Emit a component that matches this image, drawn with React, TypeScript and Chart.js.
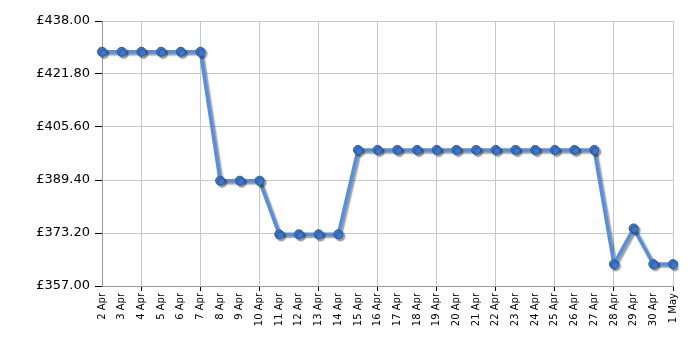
import React, { useEffect, useRef } from "react";
import { Chart, registerables } from "chart.js";

Chart.register(...registerables);

const categories = [
  "2 Apr", "3 Apr", "4 Apr", "5 Apr", "6 Apr", "7 Apr", "8 Apr", "9 Apr", "10 Apr",
  "11 Apr", "12 Apr", "13 Apr", "14 Apr", "15 Apr", "16 Apr", "17 Apr", "18 Apr",
  "19 Apr", "20 Apr", "21 Apr", "22 Apr", "23 Apr", "24 Apr", "25 Apr", "26 Apr",
  "27 Apr", "28 Apr", "29 Apr", "30 Apr", "1 May",
];

const prices = [
  428.6, 428.6, 428.6, 428.6, 428.6, 428.6,
  389.2, 389.2, 389.2,
  372.8, 372.8, 372.8, 372.8,
  398.6, 398.6, 398.6, 398.6, 398.6, 398.6, 398.6, 398.6, 398.6, 398.6, 398.6, 398.6, 398.6,
  363.7, 374.6, 363.7, 363.7,
];

const yTickValues = [357.0, 373.2, 389.4, 405.6, 421.8, 438.0];

const FONT = "'DejaVu Sans', Verdana, sans-serif";

const shadowPlugin = {
  id: "lineShadow",
  beforeDatasetDraw(chart: any) {
    const ctx = chart.ctx;
    ctx.save();
    ctx.shadowColor = "rgba(0,0,0,0.4)";
    ctx.shadowOffsetX = 2;
    ctx.shadowOffsetY = 2;
    ctx.shadowBlur = 1.5;
  },
  afterDatasetDraw(chart: any) {
    chart.ctx.restore();
  },
};

export default function App() {
  const ref = useRef<HTMLCanvasElement | null>(null);

  useEffect(() => {
    if (!ref.current) return;
    const n = categories.length;
    const isGrid = (i: number) => (n - 1 - i) % 3 === 0;
    const chart = new Chart(ref.current, {
      type: "line",
      data: {
        labels: categories,
        datasets: [
          {
            data: prices,
            borderColor: "#5590e0",
            borderWidth: 3.5,
            pointRadius: 4.5,
            pointHoverRadius: 4.5,
            pointBackgroundColor: "#3c78d0",
            pointBorderColor: "#2a5aa0",
            pointBorderWidth: 1,
            tension: 0,
          },
        ],
      },
      options: {
        animation: false,
        responsive: false,
        maintainAspectRatio: false,
        layout: { padding: { left: 0, top: 21, right: 27, bottom: 0 } },
        plugins: {
          legend: { display: false },
          tooltip: { enabled: false },
        },
        scales: {
          x: {
            type: "category",
            offset: false,
            afterFit(scale: any) {
              scale.height = 64;
            },
            grid: {
              color: (c: any) => (isGrid(c.index) ? "#c8c8c8" : "rgba(0,0,0,0)"),
              tickColor: (c: any) => (isGrid(c.index) ? "#000" : "rgba(0,0,0,0)"),
              tickLength: 5,
              drawOnChartArea: true,
            },
            border: { color: "#999", width: 1 },
            ticks: {
              autoSkip: false,
              maxRotation: 90,
              minRotation: 90,
              color: "#000",
              padding: 2,
              font: { family: FONT, size: 10 },
            },
          },
          y: {
            min: 357,
            max: 438,
            afterBuildTicks(scale: any) {
              scale.ticks = yTickValues.map((v) => ({ value: v }));
            },
            afterFit(scale: any) {
              scale.width = 102;
            },
            grid: {
              color: "#c8c8c8",
              tickColor: "#000",
              tickLength: 7,
            },
            border: { color: "#999", width: 1 },
            ticks: {
              color: "#000",
              padding: 5,
              font: { family: FONT, size: 13 },
              callback: (v: any) => "£" + Number(v).toFixed(2),
            },
          },
        },
      },
      plugins: [shadowPlugin],
    });
    return () => chart.destroy();
  }, []);

  return (
    <div style={{ position: "fixed", left: 0, top: 0, width: 700, height: 350, background: "#fff" }}>
      <canvas ref={ref} width={700} height={350} style={{ width: 700, height: 350 }} />
    </div>
  );
}
